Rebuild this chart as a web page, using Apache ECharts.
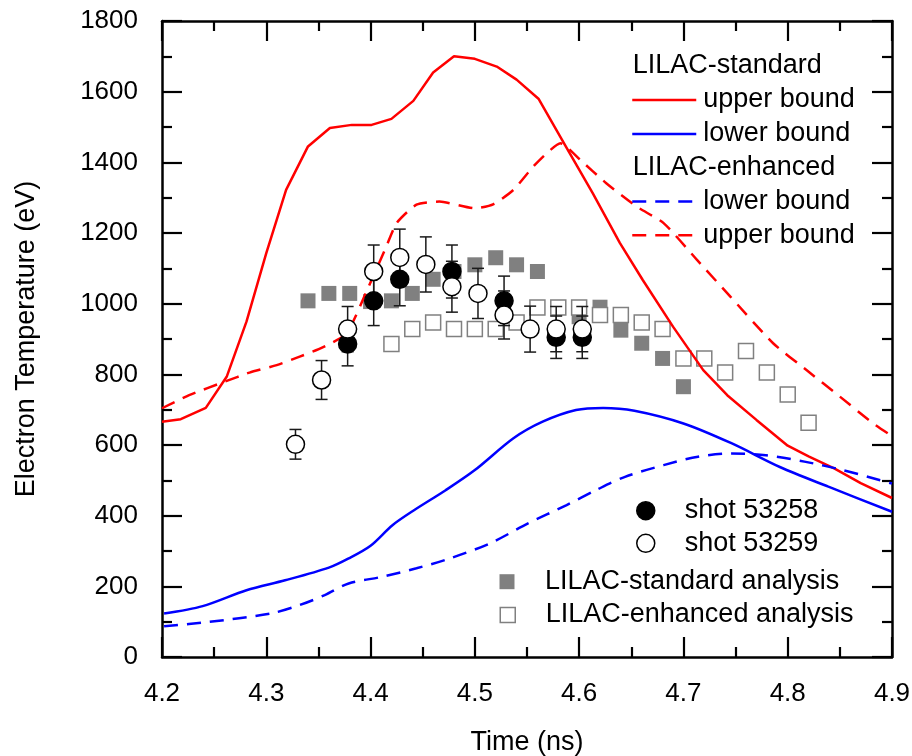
<!DOCTYPE html>
<html><head><meta charset="utf-8">
<script src="https://cdn.jsdelivr.net/npm/echarts@6/dist/echarts.min.js"></script>
<style>html,body{margin:0;padding:0;background:#fff}#c{width:912px;height:756px}</style>
</head><body><div id="c"></div>
<script>
// ---- tick labels ----
const xTickLabels = ['4.2','4.3','4.4','4.5','4.6','4.7','4.8','4.9'];
const yTickLabels = ['0','200','400','600','800','1000','1200','1400','1600','1800'];

// ---- LILAC-standard upper bound (red solid) ----
const stdUpperT = [4.200,4.218,4.242,4.262,4.281,4.300,4.319,4.340,4.361,4.382,4.401,4.420,4.441,4.460,4.480,4.500,4.521,4.540,4.561,4.588,4.613,4.639,4.661,4.690,4.719,4.742,4.770,4.800,4.820,4.845,4.870,4.900];
const stdUpperV = [666,673,705,793,949,1143,1322,1445,1497,1506,1506,1523,1574,1654,1700,1693,1671,1634,1580,1441,1313,1172,1067,935,812,741,671,598,568,533,492,450];

// ---- LILAC-standard lower bound (blue solid) ----
const stdLowerT = [4.202,4.239,4.281,4.318,4.360,4.379,4.400,4.421,4.442,4.472,4.500,4.537,4.565,4.597,4.623,4.653,4.700,4.746,4.793,4.839,4.900];
const stdLowerV = [123,144,189,217,253,279,315,373,416,472,529,619,666,699,705,697,661,605,537,482,411];

// ---- LILAC-enhanced lower bound (blue dashed) ----
const enhLowerT = [4.202,4.244,4.304,4.332,4.356,4.379,4.411,4.444,4.476,4.514,4.551,4.588,4.616,4.644,4.681,4.714,4.746,4.779,4.816,4.853,4.900];
const enhLowerV = [87,99,123,147,175,208,227,251,279,321,378,430,472,510,543,567,576,571,553,529,491];

// ---- LILAC-enhanced upper bound (red dashed) ----
const enhUpperT = [4.200,4.226,4.260,4.284,4.310,4.332,4.354,4.377,4.396,4.415,4.425,4.444,4.466,4.500,4.518,4.537,4.556,4.569,4.582,4.601,4.626,4.655,4.681,4.713,4.745,4.786,4.818,4.850,4.882,4.900];
const enhUpperV = [704,741,779,805,826,850,876,916,1034,1161,1228,1280,1289,1270,1282,1322,1388,1426,1454,1407,1341,1275,1228,1124,1020,888,812,737,661,625];

// ---- shot 53258 (filled circles) ----
const shot58T = [4.378,4.403,4.428,4.478,4.528,4.578,4.603];
const shot58V = [886,1008,1069,1091,1008,905,905];
const shot58E = [62,70,75,75,70,60,60];

// ---- shot 53259 (open circles) ----
const shot59T = [4.328,4.353,4.378,4.403,4.428,4.453,4.478,4.503,4.528,4.553,4.578,4.603];
const shot59V = [602,784,928,1091,1131,1111,1048,1029,968,928,928,928];
const shot59E = [42,55,64,75,80,78,72,71,68,65,64,64];

// ---- LILAC-standard analysis (filled squares) ----
const stdAnaT = [4.34,4.36,4.38,4.40,4.42,4.44,4.46,4.48,4.50,4.52,4.54,4.56,4.60,4.62,4.64,4.66,4.68,4.70];
const stdAnaV = [1008,1029,1029,1006,1008,1029,1069,1091,1110,1130,1110,1091,963,990,925,888,845,765];

// ---- LILAC-enhanced analysis (open squares) ----
const enhAnaT = [4.42,4.44,4.46,4.48,4.50,4.52,4.54,4.56,4.58,4.60,4.62,4.64,4.66,4.68,4.70,4.72,4.74,4.76,4.78,4.80,4.82];
const enhAnaV = [886,928,947,928,928,928,947,989,989,989,968,968,947,928,845,845,805,866,805,743,663];

const FONT = '"Liberation Sans", Arial, sans-serif';
const zip = (a,b) => a.map((t,i)=>[t,b[i]]);
const errRows = (t,v,e) => t.map((x,i)=>[x, v[i]-e[i], v[i]+e[i]]);

const RED = '#ff0000', BLUE = '#0000ff', GRAY = '#808080';
const DASH = [14, 9];

function errorBarItem(params, api){
  const x = api.value(0);
  const p1 = api.coord([x, api.value(1)]);
  const p2 = api.coord([x, api.value(2)]);
  const hw = 6;
  const st = {stroke:'#1a1a1a', lineWidth:1.5};
  return {type:'group', children:[
    {type:'line', shape:{x1:p1[0],y1:p1[1],x2:p2[0],y2:p2[1]}, style:st},
    {type:'line', shape:{x1:p1[0]-hw,y1:p1[1],x2:p1[0]+hw,y2:p1[1]}, style:st},
    {type:'line', shape:{x1:p2[0]-hw,y1:p2[1],x2:p2[0]+hw,y2:p2[1]}, style:st}
  ]};
}

const axisCommon = {
  axisLine:{show:true, onZero:false, lineStyle:{color:'#000', width:2.5}},
  axisTick:{show:true, inside:true, length:20, lineStyle:{color:'#000', width:2.2}},
  minorTick:{show:true, splitNumber:2, length:10, lineStyle:{color:'#000', width:2.2}},
  splitLine:{show:false}
};

const xAxisBase = Object.assign({type:'value', min:4.2, max:4.9, interval:0.1}, axisCommon);
const yAxisBase = Object.assign({type:'value', min:0, max:1800, interval:200}, axisCommon);

function lineLegend(name, label, cy, color, type){
  return {
    show:true, orient:'vertical', left:631, top:cy-15, padding:0,
    itemWidth:64, itemHeight:2, selectedMode:false,
    data:[{name:name, itemStyle:{opacity:0}, lineStyle:{color:color, width:2.5, type:type}}],
    formatter:()=>label,
    lineStyle:{width:2.5},
    textStyle:{fontSize:27, fontFamily:FONT, color:'#000', lineHeight:30, padding:[0,0,0,2]}
  };
}
function markLegend(name, cx, cy, size, icon, itemStyle, padLeft){
  return {
    show:true, orient:'vertical', left:cx-size/2, top:cy-15, padding:0,
    itemWidth:size, itemHeight:size, selectedMode:false,
    data:[{name:name, icon:icon, itemStyle:itemStyle}],
    textStyle:{fontSize:27, fontFamily:FONT, color:'#000', lineHeight:30, padding:[0,0,0,padLeft]}
  };
}

const chart = echarts.init(document.getElementById('c'), null, {renderer:'canvas'});
chart.setOption({
  animation:false,
  backgroundColor:'#fff',
  grid:{left:162, top:21, width:730, height:636, containLabel:false, outerBoundsMode:'none'},
  xAxis:[
    Object.assign({}, xAxisBase, {
      position:'bottom', name:'Time (ns)', nameLocation:'middle', nameGap:72,
      nameTextStyle:{fontSize:27, fontFamily:FONT, color:'#000'},
      axisLabel:{show:true, margin:24, fontSize:26, fontFamily:FONT, color:'#000',
        formatter:(v)=>{const i=Math.round((v-4.2)/0.1); return xTickLabels[i] ?? '';}}
    }),
    Object.assign({}, xAxisBase, {position:'top', axisLabel:{show:false}})
  ],
  yAxis:[
    Object.assign({}, yAxisBase, {
      position:'left', name:'Electron Temperature (eV)', nameLocation:'middle', nameGap:122,
      nameTextStyle:{fontSize:27, fontFamily:FONT, color:'#000'},
      axisLabel:{show:true, margin:24, fontSize:26, fontFamily:FONT, color:'#000',
        formatter:(v)=>{const i=Math.round(v/200); return yTickLabels[i] ?? '';}}
    }),
    Object.assign({}, yAxisBase, {position:'right', axisLabel:{show:false}})
  ],
  legend:[
    lineLegend('LILAC-standard upper bound','upper bound',100,RED,'solid'),
    lineLegend('LILAC-standard lower bound','lower bound',134,BLUE,'solid'),
    lineLegend('LILAC-enhanced lower bound','lower bound',201.4,BLUE,DASH),
    lineLegend('LILAC-enhanced upper bound','upper bound',235.2,RED,DASH),
    markLegend('shot 53258',645,510.7,18,'circle',{color:'#000',borderColor:'#000',borderWidth:1.5},25),
    markLegend('shot 53259',645,543.3,18,'circle',{color:'#fff',borderColor:'#000',borderWidth:1.5},25),
    markLegend('LILAC-standard analysis',507,581.7,15,'rect',{color:GRAY,borderWidth:0},25.5),
    markLegend('LILAC-enhanced analysis',507,615,15,'rect',{color:'#fff',borderColor:GRAY,borderWidth:1.5},25.5)
  ],
  graphic:[
    {type:'text', left:632.7, top:65.6-15, style:{text:'LILAC-standard', fontSize:27, fontFamily:FONT, fill:'#000', lineHeight:30}},
    {type:'text', left:632.7, top:167.6-15, style:{text:'LILAC-enhanced', fontSize:27, fontFamily:FONT, fill:'#000', lineHeight:30}}
  ],
  series:[
    {name:'LILAC-standard analysis', type:'scatter', z:2, symbol:'rect', symbolSize:15,
      itemStyle:{color:GRAY, borderWidth:0, opacity:1}, data:zip(stdAnaT, stdAnaV)},
    {name:'LILAC-enhanced analysis', type:'scatter', z:2, symbol:'rect', symbolSize:15,
      itemStyle:{color:'#fff', borderColor:GRAY, borderWidth:1.5, opacity:1}, data:zip(enhAnaT, enhAnaV)},
    {name:'LILAC-standard upper bound', type:'line', z:3, symbol:'none', smooth:false,
      lineStyle:{color:RED, width:2.5, type:'solid'}, itemStyle:{color:RED}, data:zip(stdUpperT, stdUpperV)},
    {name:'LILAC-standard lower bound', type:'line', z:3, symbol:'none', smooth:0.3,
      lineStyle:{color:BLUE, width:2.5, type:'solid'}, itemStyle:{color:BLUE}, data:zip(stdLowerT, stdLowerV)},
    {name:'LILAC-enhanced lower bound', type:'line', z:3, symbol:'none', smooth:0.3,
      lineStyle:{color:BLUE, width:2.5, type:DASH}, itemStyle:{color:BLUE}, data:zip(enhLowerT, enhLowerV)},
    {name:'LILAC-enhanced upper bound', type:'line', z:3, symbol:'none', smooth:0.2,
      lineStyle:{color:RED, width:2.5, type:DASH}, itemStyle:{color:RED}, data:zip(enhUpperT, enhUpperV)},
    {name:'err58', type:'custom', z:4, renderItem:errorBarItem, data:errRows(shot58T, shot58V, shot58E)},
    {name:'err59', type:'custom', z:4, renderItem:errorBarItem, data:errRows(shot59T, shot59V, shot59E)},
    {name:'shot 53258', type:'scatter', z:5, symbol:'circle', symbolSize:18,
      itemStyle:{color:'#000', borderColor:'#000', borderWidth:1.5, opacity:1}, data:zip(shot58T, shot58V)},
    {name:'shot 53259', type:'scatter', z:6, symbol:'circle', symbolSize:18,
      itemStyle:{color:'#fff', borderColor:'#000', borderWidth:1.5, opacity:1}, data:zip(shot59T, shot59V)}
  ]
});
</script>
</body></html>
